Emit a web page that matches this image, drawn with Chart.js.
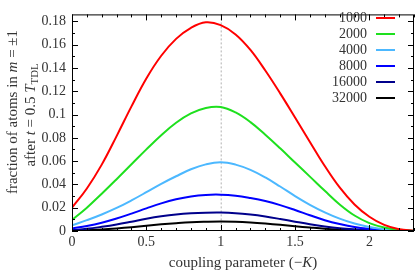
<!DOCTYPE html>
<html>
<head>
<meta charset="utf-8">
<script src="https://cdn.jsdelivr.net/npm/chart.js@4/dist/chart.umd.min.js"></script>
<style>
  html, body { margin: 0; padding: 0; background: #fff; }
  #chart { display: block; }
</style>
</head>
<body>
<canvas id="chart" width="415" height="270"></canvas>
<script>
// coupling parameter (-K)
const couplingK = [0, 0.1, 0.2, 0.3, 0.4, 0.5, 0.6, 0.7, 0.8, 0.9, 1.0, 1.1,
                   1.2, 1.3, 1.4, 1.5, 1.6, 1.7, 1.8, 1.9, 2.0, 2.1, 2.2, 2.3];

// fraction of atoms in m = ±1, one array per atom number
const n1000  = [0.020, 0.0365, 0.057, 0.0815, 0.107, 0.131, 0.1505, 0.165, 0.1745, 0.1792, 0.1768, 0.1688,
                0.1555, 0.1378, 0.1182, 0.0975, 0.0765, 0.0558, 0.0374, 0.0228, 0.0122, 0.0052, 0.0015, 0.0003];
const n2000  = [0.0095, 0.020, 0.032, 0.0445, 0.0573, 0.0701, 0.0823, 0.093, 0.101, 0.1057, 0.1065, 0.1018,
                0.0935, 0.0827, 0.0710, 0.0588, 0.0467, 0.0345, 0.0228, 0.0133, 0.0068, 0.0030, 0.0010, 0.0002];
const n4000  = [0.0048, 0.0093, 0.0142, 0.0198, 0.0263, 0.0333, 0.0405, 0.0470, 0.0530, 0.0572, 0.0590, 0.0570,
                0.0525, 0.0460, 0.0382, 0.0300, 0.0225, 0.0160, 0.0106, 0.0064, 0.0035, 0.0016, 0.0006, 0.0001];
const n8000  = [0.0022, 0.0043, 0.0071, 0.0107, 0.0149, 0.0194, 0.0237, 0.0272, 0.0297, 0.0310, 0.0312, 0.0303,
                0.0283, 0.0257, 0.0222, 0.0180, 0.0135, 0.0093, 0.0060, 0.0034, 0.0018, 0.0008, 0.0003, 0.0001];
const n16000 = [0.0008, 0.0019, 0.0036, 0.0056, 0.0080, 0.0105, 0.0126, 0.0142, 0.0152, 0.0157, 0.0158, 0.0153,
                0.0141, 0.0124, 0.0103, 0.0080, 0.0058, 0.0039, 0.0024, 0.0014, 0.0007, 0.0003, 0.0001, 0];
const n32000 = [0.0003, 0.0007, 0.0013, 0.0022, 0.0033, 0.0045, 0.0057, 0.0067, 0.0075, 0.0079, 0.0081, 0.0079,
                0.0073, 0.0064, 0.0053, 0.0041, 0.0030, 0.0020, 0.0013, 0.0008, 0.0004, 0.0002, 0.0001, 0];

const seriesLabels = ['1000', '2000', '4000', '8000', '16000', '32000'];
const seriesColors = ['#ff0000', '#1ee01e', '#4cb8ff', '#0000ff', '#00008b', '#000000'];
const seriesValues = [n1000, n2000, n4000, n8000, n16000, n32000];

const xTicks = [0, 0.5, 1, 1.5, 2];
const yTicks = [0, 0.02, 0.04, 0.06, 0.08, 0.1, 0.12, 0.14, 0.16, 0.18];
const markerK = 1;

const SERIF = '"Liberation Serif", "DejaVu Serif", serif';
const TEXT = '#333';

// draws a line of text made of parts (plain / italic / subscript), centred on (cx, cy)
function drawRich(ctx, parts, cx, cy, size) {
    const fontOf = p => (p.italic ? 'italic ' : '') + (p.sub ? size * 0.72 : size) + 'px ' + SERIF;
    let total = 0;
    parts.forEach(p => { ctx.font = fontOf(p); total += ctx.measureText(p.t).width; });
    let x = cx - total / 2;
    ctx.textAlign = 'left';
    ctx.textBaseline = 'middle';
    parts.forEach(p => {
        ctx.font = fontOf(p);
        ctx.fillText(p.t, x, cy + (p.sub ? size * 0.3 : 0));
        x += ctx.measureText(p.t).width;
    });
}

const framePlugin = {
    id: 'frame',
    beforeDatasetsDraw(chart) {
        const { ctx, chartArea: a, scales: { x } } = chart;
        const px = x.getPixelForValue(markerK);
        ctx.save();
        ctx.strokeStyle = '#b0b0b0';
        ctx.lineWidth = 1;
        ctx.setLineDash([2, 2]);
        ctx.beginPath();
        ctx.moveTo(px + 0.5, a.top);
        ctx.lineTo(px + 0.5, a.bottom);
        ctx.stroke();
        ctx.restore();
    },
    afterDraw(chart) {
        const { ctx, chartArea: a, scales: { x, y } } = chart;
        ctx.save();
        ctx.strokeStyle = '#000';
        ctx.lineWidth = 1;
        ctx.strokeRect(a.left + 0.5, a.top + 0.5, a.right - a.left - 1, a.bottom - a.top - 1);

        // inward ticks
        ctx.beginPath();
        for (let i = 0; i <= 23; i++) {
            const px = Math.round(x.getPixelForValue(i / 10)) + 0.5;
            const len = i % 5 === 0 ? 6 : 3;
            ctx.moveTo(px, a.bottom); ctx.lineTo(px, a.bottom - len);
            ctx.moveTo(px, a.top); ctx.lineTo(px, a.top + len);
        }
        for (let i = 0; i <= 18; i++) {
            const py = Math.round(y.getPixelForValue(i / 100)) + 0.5;
            const len = i % 2 === 0 ? 6 : 3;
            ctx.moveTo(a.left, py); ctx.lineTo(a.left + len, py);
            ctx.moveTo(a.right, py); ctx.lineTo(a.right - len, py);
        }
        ctx.stroke();

        // legend: label right-aligned, line sample on its right
        ctx.font = '14px ' + SERIF;
        ctx.textAlign = 'right';
        ctx.textBaseline = 'middle';
        chart.data.datasets.forEach((ds, i) => {
            const ly = 18 + i * 16;
            ctx.fillStyle = TEXT;
            ctx.fillText(ds.label, 367, ly);
            ctx.strokeStyle = ds.borderColor;
            ctx.lineWidth = 2;
            ctx.beginPath();
            ctx.moveTo(376, ly);
            ctx.lineTo(395, ly);
            ctx.stroke();
        });

        // axis titles
        ctx.fillStyle = TEXT;
        drawRich(ctx, [{ t: 'coupling parameter (\u2212' }, { t: 'K', italic: true }, { t: ')' }],
                 (a.left + a.right) / 2, 263, 15);
        ctx.save();
        ctx.translate(13, 112);
        ctx.rotate(-Math.PI / 2);
        drawRich(ctx, [{ t: 'fraction of atoms in ' }, { t: 'm', italic: true }, { t: ' = \u00b11' }], 0, 0, 15);
        ctx.restore();
        ctx.save();
        ctx.translate(31, 115);
        ctx.rotate(-Math.PI / 2);
        drawRich(ctx, [{ t: 'after ' }, { t: 't', italic: true }, { t: ' = 0.5 ' },
                       { t: 'T', italic: true }, { t: 'TDL', sub: true }], 0, 0, 15);
        ctx.restore();
        ctx.restore();
    }
};

const datasets = seriesLabels.map((label, i) => ({
    label: label,
    data: couplingK.map((k, j) => ({ x: k, y: seriesValues[i][j] })),
    borderColor: seriesColors[i],
    backgroundColor: seriesColors[i],
    borderWidth: 2,
    pointRadius: 0,
    tension: 0.4,
    fill: false
}));

new Chart(document.getElementById('chart'), {
    type: 'line',
    data: { datasets },
    options: {
        responsive: false,
        animation: false,
        layout: { padding: { top: 0, right: 1, left: 0, bottom: 0 } },
        plugins: { legend: { display: false }, tooltip: { enabled: false } },
        scales: {
            x: {
                type: 'linear',
                min: 0,
                max: 2.3,
                grid: { display: false, drawTicks: false },
                border: { display: false },
                afterBuildTicks: s => { s.ticks = xTicks.map(v => ({ value: v })); },
                afterFit: s => { s.height = 39; },
                ticks: {
                    padding: 3,
                    color: TEXT,
                    font: { family: SERIF, size: 14 },
                    callback: v => String(parseFloat(v.toFixed(2)))
                }
            },
            y: {
                type: 'linear',
                min: 0,
                max: 0.186,
                grid: { display: false, drawTicks: false },
                border: { display: false },
                afterBuildTicks: s => { s.ticks = yTicks.map(v => ({ value: v })); },
                afterFit: s => { s.width = 72; },
                ticks: {
                    padding: 6,
                    color: TEXT,
                    font: { family: SERIF, size: 14 },
                    callback: v => String(parseFloat(v.toFixed(2)))
                }
            }
        }
    },
    plugins: [framePlugin]
});
</script>
</body>
</html>
